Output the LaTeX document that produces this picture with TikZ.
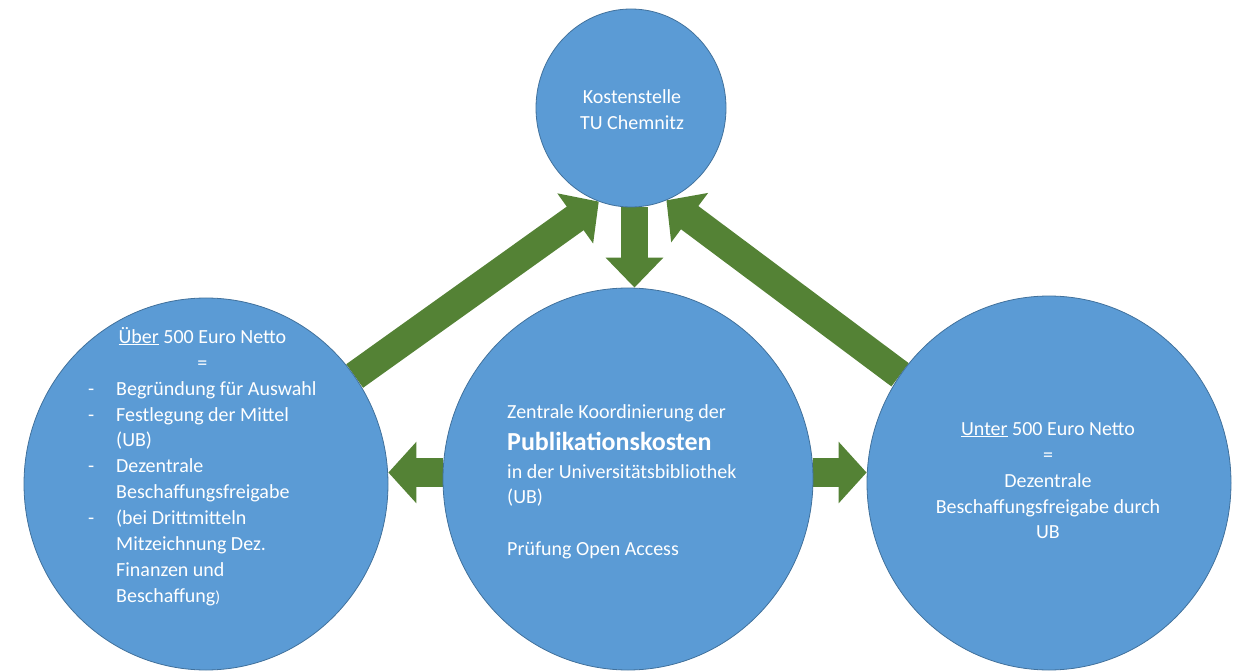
\documentclass[tikz,border=0pt]{standalone}
\usepackage{fontspec}
\setmainfont{Carlito}
\usetikzlibrary{shapes.geometric, arrows.meta}
\usetikzlibrary{backgrounds}
\definecolor{kreisblau}{HTML}{5B9BD5}
\definecolor{kreisrand}{HTML}{41719C}
\definecolor{pfeilgruen}{HTML}{548235}

\begin{document}
\begin{tikzpicture}[x=1pt, y=-1pt,
         kreis/.style={ellipse, fill=kreisblau, draw=kreisrand,
                line width=0.8pt, inner sep=0pt},
         schrift/.style={text=white, inner sep=0pt,
                font=\fontsize{20}{26}\selectfont},
         fluss/.style={draw=pfeilgruen, line width=29pt,
                -{Triangle[width=60pt, length=29pt]}},
         ]
\useasboundingbox (0,0) rectangle (1243,671);
%%% kreise
\node [kreis, minimum width=190pt, minimum height=198pt] (kosten) at (631,108) {};
\node [kreis, minimum width=364pt, minimum height=372pt] (links) at (206,484) {};
\node [kreis, minimum width=370pt, minimum height=382pt] (mitte) at (628,479) {};
\node [kreis, minimum width=364pt, minimum height=374pt] (rechts) at (1049,483) {};
%%% texte
\node [schrift, anchor=base] (kostentext) at (632,104) {%
    \begin{tabular}[t]{@{}c@{}}
    Kostenstelle\\
    TU Chemnitz
    \end{tabular}};
\node [schrift, anchor=base west] (linkstext) at (88,343) {%
    \begin{tabular}[t]{@{}p{28pt}@{}l@{}}
    \multicolumn{2}{@{}c@{}}{\underline{Über} 500 Euro Netto}\\
    \multicolumn{2}{@{}c@{}}{=}\\
    - & Begründung für Auswahl\\
    - & Festlegung der Mittel\\
      & (UB)\\
    - & Dezentrale\\
      & Beschaffungsfreigabe\\
    - & (bei Drittmitteln\\
      & Mitzeichnung Dez.\\
      & Finanzen und\\
      & Beschaffung{\fontsize{16}{26}\selectfont)}
    \end{tabular}};
\node [schrift, anchor=base west] (mittetext) at (507,418) {%
    \begin{tabular}[t]{@{}l@{}}
    Zentrale Koordinierung der\\[6pt]
    {\fontsize{26}{32}\selectfont\bfseries Publikationskosten}\\[2pt]
    in der Universitätsbibliothek\\[-1pt]
    (UB)\\[26pt]
    Prüfung Open Access
    \end{tabular}};
\node [schrift, anchor=base] (rechtstext) at (1048,435) {%
    \begin{tabular}[t]{@{}c@{}}
    \underline{Unter} 500 Euro Netto\\
    =\\
    Dezentrale\\
    Beschaffungsfreigabe durch\\[-1pt]
    UB
    \end{tabular}};
%%% pfeile
\begin{scope}[on background layer]
    \draw [fluss] (links.36) -- (kosten.251);
    \draw [fluss] (rechts.144) -- (kosten.291);
    \draw [fluss, line width=27pt, -{Triangle[width=56pt, length=30pt]}]
        (kosten.272) -- (kosten.272 |- mitte.north);
    \draw [fluss, -{Triangle[width=60pt, length=28pt]}]
        (mitte.178) -- (mitte.178 -| links.east);
    \draw [fluss, -{Triangle[width=60pt, length=28pt]}]
        (mitte.2) -- (mitte.2 -| rechts.west);
\end{scope}
\end{tikzpicture}
\end{document}
